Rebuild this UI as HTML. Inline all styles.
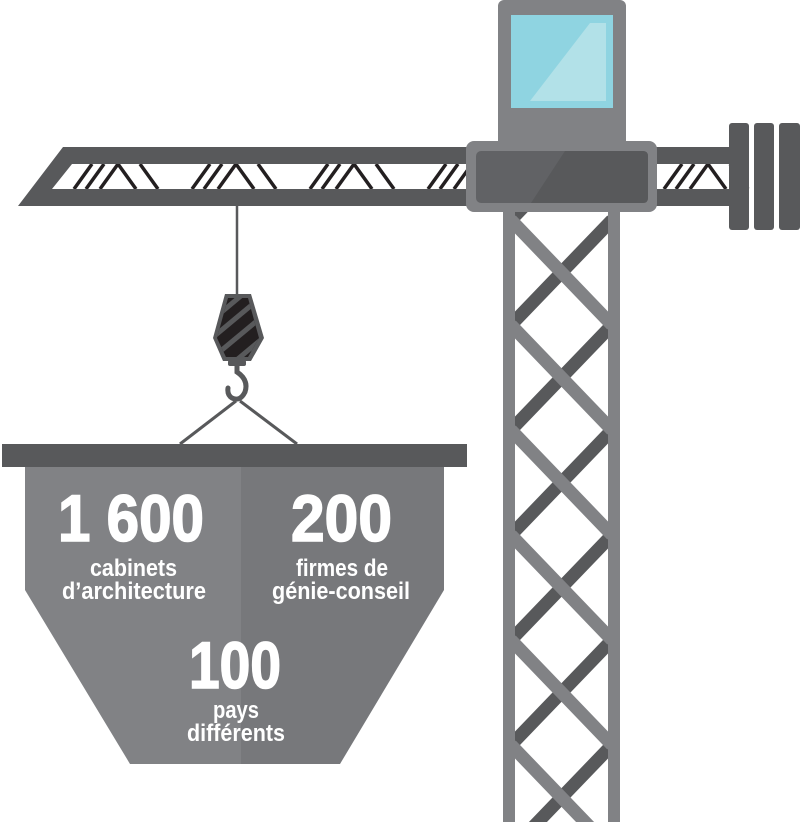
<!DOCTYPE html>
<html><head><meta charset="utf-8"><style>
html,body{margin:0;padding:0;background:#fff;}
svg{display:block;}
text{font-family:"Liberation Sans Narrow","Liberation Sans",sans-serif;font-weight:bold;fill:#fff;}
.big{stroke:#fff;stroke-width:1.6;}
</style></head><body>
<svg width="800" height="822" viewBox="0 0 800 822" xmlns="http://www.w3.org/2000/svg">
<defs><clipPath id="tw"><rect x="515" y="212" width="93" height="610"/></clipPath></defs>
<g clip-path="url(#tw)" stroke-width="13">
  <g stroke="#58595b">
    <line x1="612" y1="115" x2="511" y2="220"/>
    <line x1="612" y1="220" x2="511" y2="325"/>
    <line x1="612" y1="325" x2="511" y2="430"/>
    <line x1="612" y1="430" x2="511" y2="535"/>
    <line x1="612" y1="535" x2="511" y2="640"/>
    <line x1="612" y1="640" x2="511" y2="745"/>
    <line x1="612" y1="745" x2="511" y2="850"/>
  </g>
  <g stroke="#818285">
    <line x1="511" y1="220" x2="612" y2="325"/>
    <line x1="511" y1="325" x2="612" y2="430"/>
    <line x1="511" y1="430" x2="612" y2="535"/>
    <line x1="511" y1="535" x2="612" y2="640"/>
    <line x1="511" y1="640" x2="612" y2="745"/>
    <line x1="511" y1="745" x2="612" y2="850"/>
  </g>
</g>
<rect x="503" y="205" width="12" height="617" fill="#818285"/>
<rect x="608" y="205" width="12" height="617" fill="#818285"/>

<g stroke="#231f20" stroke-width="3.5">
  <g id="grp">
    <line x1="74" y1="189" x2="92" y2="164"/>
    <line x1="86" y1="189" x2="104" y2="164"/>
    <line x1="100" y1="189" x2="118" y2="164"/>
    <line x1="118" y1="164" x2="136" y2="189"/>
    <line x1="140" y1="164" x2="158" y2="189"/>
  </g>
  <use href="#grp" x="118"/>
  <use href="#grp" x="236"/>
  <use href="#grp" x="354"/>
  <use href="#grp" x="590"/>
</g>
<path d="M63 147 L735 147 L735 164 L72 164 L52 189 L735 189 L735 206 L18 206 Z" fill="#58595b"/>
<rect x="729" y="123" width="20" height="107" rx="3" fill="#58595b"/>
<rect x="754" y="123" width="20" height="107" rx="3" fill="#58595b"/>
<rect x="779" y="123" width="21" height="107" rx="3" fill="#58595b"/>

<rect x="498" y="0" width="128" height="150" rx="6" fill="#818285"/>
<rect x="511" y="15" width="102" height="93" fill="#8fd4e1"/>
<polygon points="590,23 606,23 606,101 530,101" fill="#b2e1e8"/>
<rect x="466" y="141" width="191" height="71" rx="8" fill="#818285"/>
<rect x="476" y="151" width="172" height="52" rx="5" fill="#616265"/>
<path d="M565 151 L643 151 Q648 151 648 156 L648 198 Q648 203 643 203 L531 203 Z" fill="#58595b"/>

<line x1="237" y1="206" x2="237" y2="296" stroke="#58595b" stroke-width="2.5"/>
<polygon points="225,294 251,294 264,338 251,361 223,361 213,338" fill="#58595b"/>
<defs><clipPath id="hx"><polygon points="228,298 248,298 259,338 248,357 226,357 217,338"/></clipPath></defs>
<g clip-path="url(#hx)">
  <rect x="210" y="290" width="60" height="75" fill="#231f20"/>
  <g stroke="#58595b" stroke-width="5">
    <line x1="200" y1="330" x2="260" y2="280"/>
    <line x1="200" y1="348" x2="265" y2="294"/>
    <line x1="205" y1="364" x2="270" y2="310"/>
    <line x1="215" y1="378" x2="275" y2="328"/>
  </g>
</g>
<rect x="228" y="360" width="18" height="6" rx="2" fill="#58595b"/>
<path d="M237 366 L237 372 Q249 380 245 392 Q240 402 232 398 Q227 395 228 388" fill="none" stroke="#58595b" stroke-width="5" stroke-linecap="round"/>
<line x1="236" y1="401" x2="180" y2="444" stroke="#58595b" stroke-width="3"/>
<line x1="240" y1="401" x2="297" y2="444" stroke="#58595b" stroke-width="3"/>

<path d="M25 466 L241 466 L241 764 L130 764 L25 590 Z" fill="#818285"/>
<path d="M241 466 L444 466 L444 590 L340 764 L241 764 Z" fill="#77787b"/>
<rect x="2" y="444" width="465" height="23" fill="#58595b"/>

<text class="big" x="58" y="541" font-size="66" textLength="146" lengthAdjust="spacingAndGlyphs">1 600</text>
<text x="90" y="576" font-size="24" textLength="87" lengthAdjust="spacingAndGlyphs">cabinets</text>
<text x="62" y="599" font-size="24" textLength="144" lengthAdjust="spacingAndGlyphs">d’architecture</text>
<text class="big" x="291" y="541" font-size="66" textLength="101" lengthAdjust="spacingAndGlyphs">200</text>
<text x="296" y="576" font-size="24" textLength="92" lengthAdjust="spacingAndGlyphs">firmes de</text>
<text x="272" y="599" font-size="24" textLength="138" lengthAdjust="spacingAndGlyphs">génie-conseil</text>
<text class="big" x="189" y="688" font-size="66" textLength="92" lengthAdjust="spacingAndGlyphs">100</text>
<text x="213" y="718" font-size="24" textLength="46" lengthAdjust="spacingAndGlyphs">pays</text>
<text x="187" y="741" font-size="24" textLength="98" lengthAdjust="spacingAndGlyphs">différents</text>
</svg>
</body></html>
